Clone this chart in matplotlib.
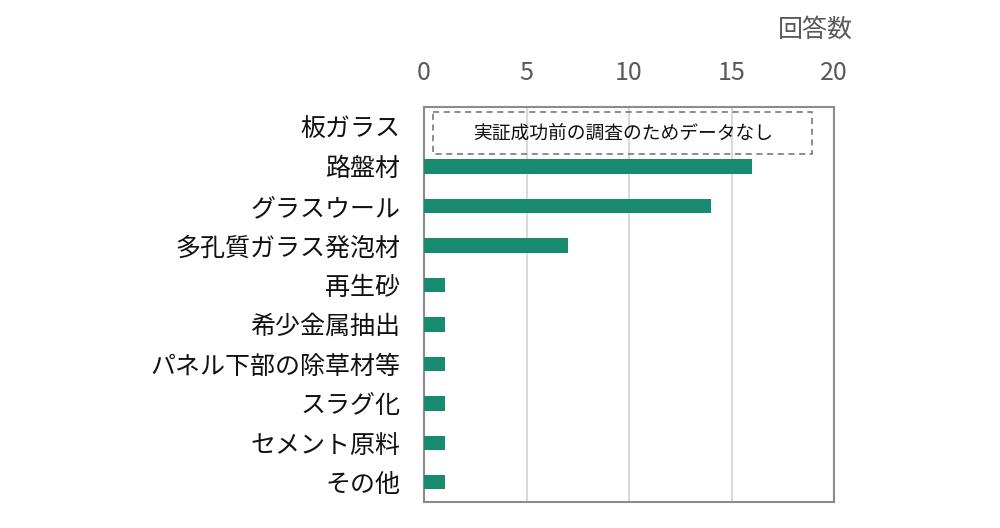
import matplotlib.pyplot as plt
from matplotlib.patches import Rectangle

plt.rcParams['font.family'] = ['Noto Sans CJK JP', 'DejaVu Sans']

# data
categories = ['板ガラス', '路盤材', 'グラスウール', '多孔質ガラス発泡材', '再生砂',
              '希少金属抽出', 'パネル下部の除草材等', 'スラグ化', 'セメント原料', 'その他']
counts = [0, 16, 14, 7, 1, 1, 1, 1, 1, 1]
xticks = [0, 5, 10, 15, 20]
note = '実証成功前の調査のためデータなし'
axis_title = '回答数'

bar_color = '#178a70'
gray = '#595959'

fig = plt.figure(figsize=(10, 5.28), dpi=100)
ax = fig.add_axes([0.424, 0.049, 0.41, 0.748])

y = list(range(len(categories)))
# first row has no data, so draw only the rest
ax.barh(y[1:], counts[1:], height=0.36, color=bar_color, zorder=3)

ax.set_xlim(0, 20)
ax.set_ylim(len(categories) - 0.5, -0.5)
ax.set_xticks(xticks)
ax.set_yticks(y)
ax.set_yticklabels(categories, fontsize=18, color='#111111')
ax.xaxis.tick_top()
ax.tick_params(axis='x', length=0, pad=15, labelsize=18, labelcolor=gray)
ax.tick_params(axis='y', length=0, pad=17)
ax.grid(axis='x', color='#d9d9d9', linewidth=1.5, zorder=0)
for s in ax.spines.values():
    s.set_color('#8c8c8c')
    s.set_linewidth(1.5)

# dashed note box for the first row
ax.add_patch(Rectangle((0.44, -0.37), 18.49, 1.06, fill=False, edgecolor='#6e6e6e',
                       linestyle=(0, (4, 3)), linewidth=1.1, zorder=4))
ax.text(9.7, 0.16, note, ha='center', va='center', fontsize=13.5, color='#111111', zorder=5)

fig.text(0.815, 1 - 30 / 528, axis_title, ha='center', va='center', fontsize=18, color=gray)

fig.savefig('out.png', dpi=100)
